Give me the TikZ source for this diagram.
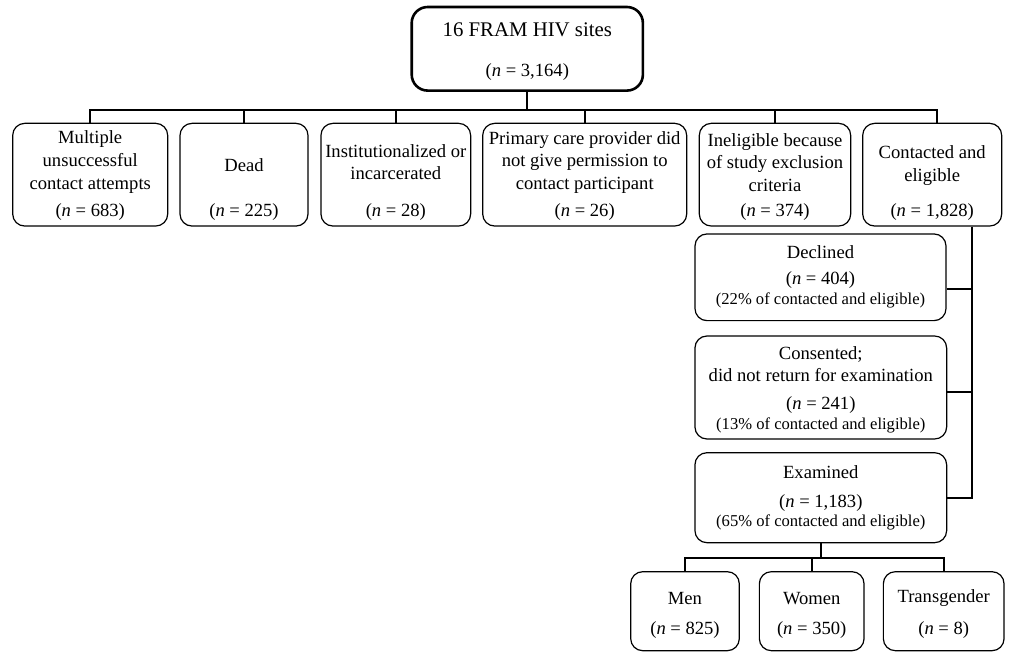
\documentclass[tikz,border=0pt]{standalone}
\usepackage{fontspec}
\setmainfont{Liberation Serif}
\begin{document}
\begin{tikzpicture}[x=0.5pt,y=-0.5pt,
  box/.style={draw, rounded corners=6pt, line width=0.6pt, inner sep=0pt},
  topbox/.style={draw, rounded corners=8pt, line width=1.3pt, inner sep=0pt},
  txt/.style={align=center, inner sep=0pt, font=\fontsize{9.3}{11.3}\selectfont},
  ttl/.style={align=center, inner sep=0pt, font=\fontsize{10.4}{12}\selectfont},
  pct/.style={align=center, inner sep=0pt, font=\fontsize{8.3}{10}\selectfont},
  conn/.style={line width=1pt}]
\useasboundingbox (0,0) rectangle (1009,652);
% top
\node[topbox, minimum width=115.6pt, minimum height=41.8pt] (top) at (527.3,48.8) {};
\node[ttl] (topt) at (527.3,30) {16 FRAM HIV sites};
\node[txt] (topn) at (527.3,72) {(\textit{n} = 3,164)};
% row 1
\node[box, minimum width=77.5pt, minimum height=51.35pt] (b1) at (90.2,174.7) {};
\node[box, minimum width=64pt, minimum height=51.35pt] (b2) at (244,174.7) {};
\node[box, minimum width=74.85pt, minimum height=51.35pt] (b3) at (395.8,174.7) {};
\node[box, minimum width=102pt, minimum height=51.35pt] (b4) at (584.7,174.7) {};
\node[box, minimum width=75.7pt, minimum height=51.35pt] (b5) at (775,174.7) {};
\node[box, minimum width=69.5pt, minimum height=51.35pt] (b6) at (932.2,174.7) {};
\node[txt] (b1t) at (90.2,162) {Multiple\\unsuccessful\\contact attempts};
\node[txt] (b1n) at (90.2,211.7) {(\textit{n} = 683)};
\node[txt] (b2t) at (244,165) {Dead};
\node[txt] (b2n) at (244,211.7) {(\textit{n} = 225)};
\node[txt] (b3t) at (395.8,162.2) {Institutionalized or\\incarcerated};
\node[txt] (b3n) at (395.8,211.7) {(\textit{n} = 28)};
\node[txt] (b4t) at (584.7,162.5) {Primary care provider did\\not give permission to\\contact participant};
\node[txt] (b4n) at (584.7,211.7) {(\textit{n} = 26)};
\node[txt] (b5t) at (775,162.5) {Ineligible because\\of study exclusion\\criteria};
\node[txt] (b5n) at (775,211.7) {(\textit{n} = 374)};
\node[txt] (b6t) at (932.2,165.8) {Contacted and\\eligible};
\node[txt] (b6n) at (932.2,211.7) {(\textit{n} = 1,828)};
% right column
\node[box, minimum width=125.5pt, minimum height=43.35pt] (dec) at (820.5,277.3) {};
\node[txt] (dect) at (820.5,252.3) {Declined};
\node[txt] (decn) at (820.5,280) {(\textit{n} = 404)};
\node[pct] (decp) at (820.5,300) {(22\% of contacted and eligible)};
\node[box, minimum width=125.85pt, minimum height=51.5pt] (con) at (820.8,387.5) {};
\node[txt] (cont) at (820.8,364) {Consented;\\did not return for examination};
\node[txt] (conn) at (820.8,405) {(\textit{n} = 241)};
\node[pct] (conp) at (820.8,425.7) {(13\% of contacted and eligible)};
\node[box, minimum width=125.85pt, minimum height=45pt] (ex) at (820.8,497.7) {};
\node[txt] (ext) at (820.8,472.3) {Examined};
\node[txt] (exn) at (820.8,503.3) {(\textit{n} = 1,183)};
\node[pct] (exp) at (820.8,522.7) {(65\% of contacted and eligible)};
% bottom
\node[box, minimum width=54.3pt, minimum height=39.5pt] (men) at (685,611.2) {};
\node[box, minimum width=52.35pt, minimum height=39.5pt] (wom) at (811.7,611.2) {};
\node[box, minimum width=60.35pt, minimum height=39.5pt] (tra) at (943.7,611.2) {};
\node[txt] (ment) at (685,598.3) {Men};
\node[txt] (menn) at (685,630) {(\textit{n} = 825)};
\node[txt] (womt) at (811.7,598.3) {Women};
\node[txt] (womn) at (811.7,630) {(\textit{n} = 350)};
\node[txt] (trat) at (943.7,598.3) {Transgender};
\node[txt] (tran) at (943.7,630) {(\textit{n} = 8)};
% connectors
\coordinate (hb) at (0,110.5);
\coordinate (vx) at (972.3,0);
\coordinate (b6d) at (936.7,123.3);
\coordinate (lb) at (0,558.3);
\draw[conn] (top.south) -- (top.south |- hb);
\draw[conn] (b1.north) -- (b1.north |- hb) -- (b6d |- hb) -- (b6d);
\draw[conn] (b2.north) -- (b2.north |- hb);
\draw[conn] (b3.north) -- (b3.north |- hb);
\draw[conn] (b4.north) -- (b4.north |- hb);
\draw[conn] (b5.north) -- (b5.north |- hb);
\draw[conn] (b6.south -| vx) -- (ex.east -| vx) -- (ex.east);
\draw[conn] ([yshift=-6pt]dec.east) -- ([yshift=-6pt]dec.east -| vx);
\draw[conn] ([yshift=-2.4pt]con.east) -- ([yshift=-2.4pt]con.east -| vx);
\draw[conn] (ex.south) -- (ex.south |- lb);
\draw[conn] (men.north) -- (men.north |- lb) -- (tra.north |- lb) -- (tra.north);
\draw[conn] (wom.north) -- (wom.north |- lb);
\end{tikzpicture}
\end{document}
